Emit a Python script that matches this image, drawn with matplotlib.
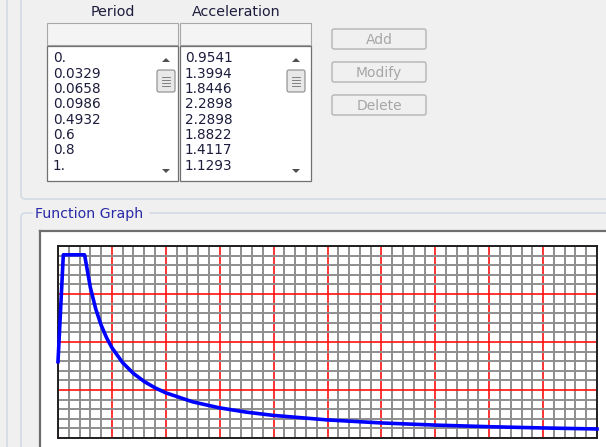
import numpy as np
import matplotlib.pyplot as plt
from matplotlib.patches import Rectangle, FancyBboxPatch, Polygon, Arc
from matplotlib.ticker import MultipleLocator

# table rows shown in the dialog
period_rows = ["0.", "0.0329", "0.0658", "0.0986", "0.4932", "0.6", "0.8", "1."]
accel_rows = ["0.9541", "1.3994", "1.8446", "2.2898", "2.2898", "1.8822", "1.4117", "1.1293"]

# full function (period, acceleration) as drawn in the graph
period = [0.0, 0.0329, 0.0658, 0.0986, 0.4932, 0.6, 0.7, 0.8, 0.9, 1.0, 1.2, 1.4,
          1.6, 1.8, 2.0, 2.5, 3.0, 3.5, 4.0, 5.0, 6.0, 7.0, 8.0, 9.0, 10.0]
accel = [0.9541, 1.3994, 1.8446, 2.2898, 2.2898, 1.8822, 1.6133, 1.4117, 1.2548,
         1.1293, 0.9411, 0.8066, 0.7058, 0.6274, 0.5647, 0.4517, 0.3764, 0.3227,
         0.2823, 0.2259, 0.1882, 0.1613, 0.1412, 0.1255, 0.1129]

buttons = ["Add", "Modify", "Delete"]

W, H = 606, 447
fig = plt.figure(figsize=(W / 100, H / 100), dpi=100)
fig.patch.set_facecolor("#f0f0f0")

# chrome axes in pixel coordinates
ui = fig.add_axes([0, 0, 1, 1])
ui.set_xlim(0, W)
ui.set_ylim(H, 0)
ui.axis("off")

txt = "#1c1c3c"
font = "DejaVu Sans"
edge_light = "#d3dbe4"

# outer panel lines
ui.plot([7, 7], [0, H], color=edge_light, lw=1.2)
ui.plot([21, 21], [0, 195], color=edge_light, lw=1.2)
ui.add_patch(Arc((25, 195), 8, 8, theta1=90, theta2=180, color=edge_light, lw=1.2))
ui.plot([25, W], [199, 199], color=edge_light, lw=1.2)
ui.plot([21, 21], [217, H], color=edge_light, lw=1.2)
ui.add_patch(Arc((25, 217), 8, 8, theta1=180, theta2=270, color=edge_light, lw=1.2))
ui.plot([25, 32], [213, 213], color=edge_light, lw=1.2)
ui.plot([150, W], [213, 213], color=edge_light, lw=1.2)

# column headers
ui.text(113, 12, "Period", ha="center", va="center", fontsize=10.3, color=txt, family=font)
ui.text(236, 12, "Acceleration", ha="center", va="center", fontsize=10.3, color=txt, family=font)

# edit boxes and list boxes
for x0 in [47, 180]:
    ui.add_patch(Rectangle((x0, 23), 131, 22, fc="#f4f4f4", ec="#a8a8a8", lw=0.8))
    ui.add_patch(Rectangle((x0, 46), 131, 135, fc="white", ec="#707070", lw=0.9))

scroll_x = [166, 296]
for sx in scroll_x:
    ui.add_patch(Polygon([[sx - 4, 62], [sx + 4, 62], [sx, 58]], closed=True, fc="#505050", ec="none"))
    ui.add_patch(Polygon([[sx - 4, 169], [sx + 4, 169], [sx, 173]], closed=True, fc="#505050", ec="none"))
    ui.add_patch(FancyBboxPatch((sx - 9, 70), 18, 22, boxstyle="round,pad=0,rounding_size=2",
                                fc="#e8e8e8", ec="#8a8a8a", lw=0.8))
    for gy in [77, 80, 83, 86]:
        ui.plot([sx - 4, sx + 4], [gy, gy], color="#707070", lw=0.6)

row_y = [58, 73.5, 89, 104.5, 120, 135, 150.5, 166]
for i in range(len(period_rows)):
    ui.text(53, row_y[i], period_rows[i], ha="left", va="center", fontsize=9.8,
            color=txt, family=font)
    ui.text(185, row_y[i], accel_rows[i], ha="left", va="center", fontsize=9.8,
            color=txt, family=font)

# buttons
btn_y = [29, 62, 95]
for i, b in enumerate(buttons):
    ui.add_patch(FancyBboxPatch((332, btn_y[i]), 94, 20, boxstyle="round,pad=0,rounding_size=2",
                                fc="#f0f0f0", ec="#adadad", lw=0.9))
    ui.text(379, btn_y[i] + 10.5, b, ha="center", va="center", fontsize=10,
            color="#a6a6a6", family=font)

# function graph group
ui.text(35, 214, "Function Graph", ha="left", va="center", fontsize=10.2,
        color="#2a2aa8", family=font)
ui.add_patch(Rectangle((40, 231), W - 40 + 5, H - 231 + 5, fc="white", ec="none"))
ui.plot([40, 40], [231, H], color="#6e6e6e", lw=1.6)
ui.plot([40, W], [231, 231], color="#6e6e6e", lw=1.6)

# plot area
x0, y0, x1, y1 = 58, 246, 597, 438
ax = fig.add_axes([x0 / W, (H - y1) / H, (x1 - x0) / W, (y1 - y0) / H])
ax.set_facecolor("white")
ax.set_xlim(0, 10)
ax.set_ylim(0, 2.4)
ax.xaxis.set_major_locator(MultipleLocator(1))
ax.xaxis.set_minor_locator(MultipleLocator(0.2))
ax.yaxis.set_major_locator(MultipleLocator(0.6))
ax.yaxis.set_minor_locator(MultipleLocator(0.12))
ax.grid(which="minor", color="#8e8e8e", lw=1.4)
ax.grid(which="major", color="#ff1010", lw=1.2)
ax.set_axisbelow(True)
ax.tick_params(which="both", length=0, labelbottom=False, labelleft=False)
for s in ax.spines.values():
    s.set_color("#202020")
    s.set_linewidth(1.4)

ax.plot(period, accel, color="#0000ff", lw=2.6, solid_joinstyle="round", clip_on=False, zorder=5)

fig.savefig("out.png", dpi=100, facecolor=fig.get_facecolor())
